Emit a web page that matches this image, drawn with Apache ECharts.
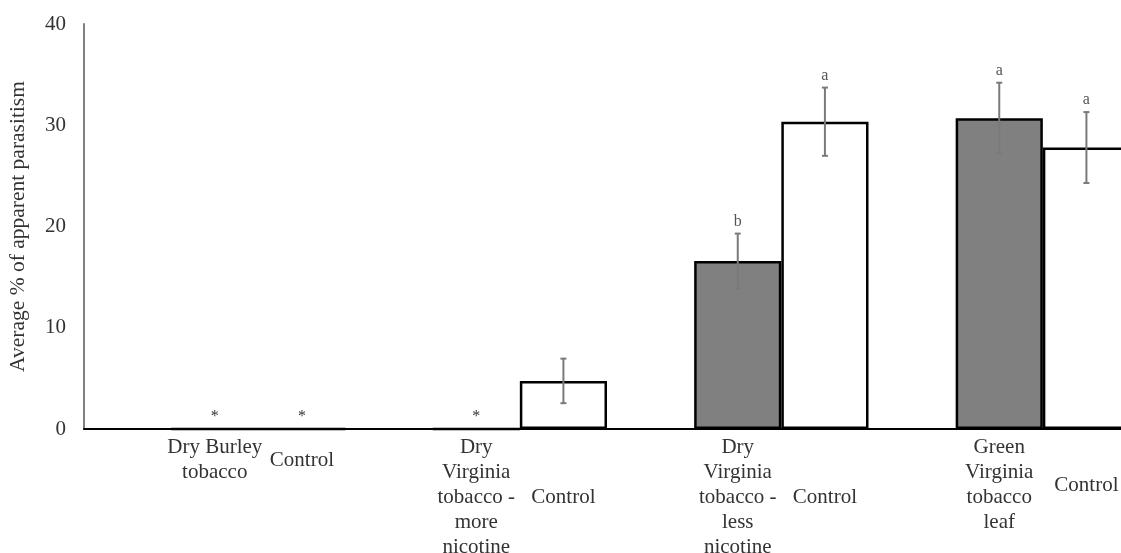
<!DOCTYPE html>
<html>
<head>
<meta charset="utf-8">
<script src="https://cdn.jsdelivr.net/npm/echarts@6/dist/echarts.min.js"></script>
<style>html,body{margin:0;padding:0;background:#fff;}#c{width:1121px;height:553px;}</style>
</head>
<body>
<div id="c"></div>
<script>
// ---- data ----
const groupLabels = ['Dry Burley\ntobacco', 'Dry\nVirginia\ntobacco -\nmore\nnicotine', 'Dry\nVirginia\ntobacco -\nless\nnicotine', 'Green\nVirginia\ntobacco\nleaf'];
const controlLabel = 'Control';
const treatmentMeans = [0, 0, 16.6, 30.7];
const controlMeans = [0, 4.75, 30.35, 27.8];
const treatmentErr = [0, 0, 2.7, 3.5];
const controlErr = [0, 2.2, 3.37, 3.5];
const treatmentLetters = ['*', '*', 'b', 'a'];
const controlLetters = ['*', '', 'a', 'a'];
const yTicks = [0, 10, 20, 30, 40];

// ---- build slots: gap, treatment, control per group ----
const categories = [], barData = [], errData = [], slotKind = [];
groupLabels.forEach((g, i) => {
  categories.push(''); barData.push('-'); slotKind.push({kind: 'gap'});
  categories.push(g);
  barData.push({value: treatmentMeans[i], itemStyle: {color: '#808080'}});
  slotKind.push({kind: 't', group: i});
  errData.push([categories.length - 1, treatmentMeans[i], treatmentErr[i], treatmentLetters[i]]);
  categories.push(controlLabel);
  barData.push({value: controlMeans[i], itemStyle: {color: '#ffffff'}});
  slotKind.push({kind: 'c', group: i});
  errData.push([categories.length - 1, controlMeans[i], controlErr[i], controlLetters[i]]);
});

const LH = 25;
const rich = { t: {lineHeight: LH, fontSize: 21, fontFamily: 'Liberation Serif', color: '#333', align: 'center'} };
groupLabels.forEach((g, i) => {
  const n = g.split('\n').length;
  rich['s' + i] = {lineHeight: Math.max(1, (n - 1) / 2 * LH), fontSize: 1};
});

const chart = echarts.init(document.getElementById('c'));
chart.setOption({
  animation: false,
  backgroundColor: '#fff',
  grid: {left: 84, top: 24, width: 1046, height: 405, containLabel: false, outerBoundsMode: 'none'},
  xAxis: {
    type: 'category',
    data: categories,
    axisLine: {lineStyle: {color: '#000', width: 2}},
    axisTick: {show: false},
    axisLabel: {
      interval: 0, margin: 6, hideOverlap: false,
      formatter: function (v, idx) {
        const s = slotKind[idx];
        if (!s || s.kind === 'gap') return '';
        if (s.kind === 't') return '{t|' + v + '}';
        const n = groupLabels[s.group].split('\n').length;
        if (n <= 1) return '{t|' + v + '}';
        return '{s' + s.group + '| }\n{t|' + v + '}';
      },
      rich: rich
    }
  },
  yAxis: {
    type: 'value', min: 0, max: 40, interval: 10,
    name: 'Average % of apparent parasitism',
    nameLocation: 'middle', nameGap: 55,
    nameTextStyle: {fontFamily: 'Liberation Serif', fontSize: 21.5, color: '#333'},
    axisLine: {show: true, lineStyle: {color: '#808080', width: 2}},
    axisTick: {show: false},
    splitLine: {show: false},
    axisLabel: {
      margin: 18, fontFamily: 'Liberation Serif', fontSize: 21, color: '#333',
      formatter: v => yTicks.includes(v) ? String(v) : ''
    }
  },
  series: [
    {
      type: 'bar', data: barData, barCategoryGap: '0%', barGap: '0%',
      itemStyle: {borderColor: '#000', borderWidth: 2.5},
      z: 2
    },
    {
      type: 'custom', data: errData, z: 5,
      renderItem: function (params, api) {
        const x = api.value(0), m = api.value(1), e = api.value(2), letter = api.value(3);
        const top = api.coord([x, m + e]);
        const bot = api.coord([x, m - e]);
        const children = [];
        if (e > 0) {
          const st = {stroke: '#7a7a7a', lineWidth: 2};
          children.push({type: 'line', shape: {x1: top[0], y1: top[1], x2: bot[0], y2: bot[1]}, style: st});
          children.push({type: 'line', shape: {x1: top[0] - 3, y1: top[1], x2: top[0] + 3, y2: top[1]}, style: st});
          children.push({type: 'line', shape: {x1: bot[0] - 3, y1: bot[1], x2: bot[0] + 3, y2: bot[1]}, style: st});
        }
        if (letter) {
          children.push({type: 'text', style: {
            text: letter, x: top[0], y: top[1] - 4, align: 'center', verticalAlign: 'bottom',
            fontFamily: 'Liberation Serif', fontSize: 16, fill: letter === '*' ? '#333' : '#555'
          }});
        }
        return {type: 'group', children: children};
      }
    }
  ]
});
</script>
</body>
</html>
